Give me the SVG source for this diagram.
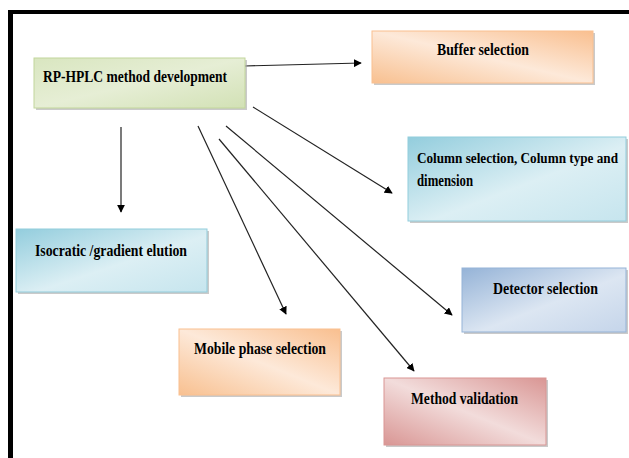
<svg xmlns="http://www.w3.org/2000/svg" width="629" height="458" viewBox="0 0 629 458">
<style>
.t{font-family:"Liberation Serif","Times New Roman",serif;font-weight:bold;font-size:16.5px;fill:#000}
.c{stroke:#222;stroke-width:1.2;fill:none;marker-end:url(#ah)}
.sh{fill:#a6a6a6;opacity:0.6}
</style>
<defs>
<marker id="ah" viewBox="0 0 10 10" refX="9" refY="5" markerWidth="8" markerHeight="8" markerUnits="userSpaceOnUse" orient="auto">
<path d="M0,0 L10,5 L0,10 z" fill="#000"/>
</marker>
<linearGradient id="gG" x1="0" y1="0" x2="1" y2="1"><stop offset="0" stop-color="#d9e6c0"/><stop offset="0.5" stop-color="#e6eed5"/><stop offset="1" stop-color="#d2e1b5"/></linearGradient>
<linearGradient id="gO" x1="0" y1="1" x2="1" y2="0"><stop offset="0" stop-color="#f8c090"/><stop offset="0.5" stop-color="#fde9d9"/><stop offset="1" stop-color="#f9bf8f"/></linearGradient>
<linearGradient id="gB" x1="0" y1="0" x2="1" y2="1"><stop offset="0" stop-color="#93cddd"/><stop offset="0.55" stop-color="#dceff4"/><stop offset="1" stop-color="#c6e5ee"/></linearGradient>
<linearGradient id="gD" x1="0" y1="0" x2="1" y2="1"><stop offset="0" stop-color="#95b3d7"/><stop offset="0.55" stop-color="#dce6f2"/><stop offset="1" stop-color="#c5d5ea"/></linearGradient>
<linearGradient id="gR" x1="0" y1="1" x2="1" y2="0"><stop offset="0" stop-color="#d99694"/><stop offset="0.5" stop-color="#f2dcdb"/><stop offset="1" stop-color="#d99694"/></linearGradient>
</defs>
<rect x="0" y="0" width="629" height="458" fill="#fff"/>
<rect x="8" y="10" width="621" height="4" fill="#000"/>
<rect x="8" y="10" width="5" height="448" fill="#000"/>

<g id="connectors">
<path class="c" d="M245,66 L361,63"/>
<path class="c" d="M121,127 L121,212"/>
<path class="c" d="M253,107 L392,193"/>
<path class="c" d="M198,126 L286,314"/>
<path class="c" d="M219,139 L414,371"/>
<path class="c" d="M226,126 L452,315"/>
</g>

<g id="n-main">
<rect class="sh" x="36" y="60" width="211" height="50"/>
<rect x="34" y="58" width="211" height="50" fill="url(#gG)" stroke="#c2d69b" stroke-width="1"/>
<text class="t" x="43" y="82" textLength="184" lengthAdjust="spacingAndGlyphs">RP-HPLC method development</text>
</g>
<g id="n-buffer">
<rect class="sh" x="374" y="33" width="221" height="52"/>
<rect x="372" y="31" width="221" height="52" fill="url(#gO)" stroke="#fac090" stroke-width="1"/>
<text class="t" x="437" y="55" textLength="92" lengthAdjust="spacingAndGlyphs">Buffer selection</text>
</g>
<g id="n-column">
<rect class="sh" x="410" y="139" width="218" height="84"/>
<rect x="408" y="137" width="218" height="84" fill="url(#gB)" stroke="#92cddc" stroke-width="1"/>
<text class="t" x="417" y="163" textLength="201" lengthAdjust="spacingAndGlyphs" style="font-size:14px">Column selection, Column type and</text>
<text class="t" x="417" y="186" textLength="56" lengthAdjust="spacingAndGlyphs">dimension</text>
</g>
<g id="n-detector">
<rect class="sh" x="464" y="270" width="164" height="64"/>
<rect x="462" y="268" width="164" height="64" fill="url(#gD)" stroke="#95b3d7" stroke-width="1"/>
<text class="t" x="493" y="294" textLength="105" lengthAdjust="spacingAndGlyphs">Detector selection</text>
</g>
<g id="n-isocratic">
<rect class="sh" x="18" y="231" width="191" height="63"/>
<rect x="16" y="229" width="191" height="63" fill="url(#gB)" stroke="#92cddc" stroke-width="1"/>
<text class="t" x="35" y="256" textLength="152" lengthAdjust="spacingAndGlyphs">Isocratic /gradient elution</text>
</g>
<g id="n-mobile">
<rect class="sh" x="181" y="331" width="161" height="66"/>
<rect x="179" y="329" width="161" height="66" fill="url(#gO)" stroke="#fac090" stroke-width="1"/>
<text class="t" x="194" y="354" textLength="132" lengthAdjust="spacingAndGlyphs">Mobile phase selection</text>
</g>
<g id="n-validation">
<rect class="sh" x="386" y="380" width="162" height="67"/>
<rect x="384" y="378" width="162" height="67" fill="url(#gR)" stroke="#d99694" stroke-width="1"/>
<text class="t" x="411" y="404" textLength="107" lengthAdjust="spacingAndGlyphs">Method validation</text>
</g>
</svg>
